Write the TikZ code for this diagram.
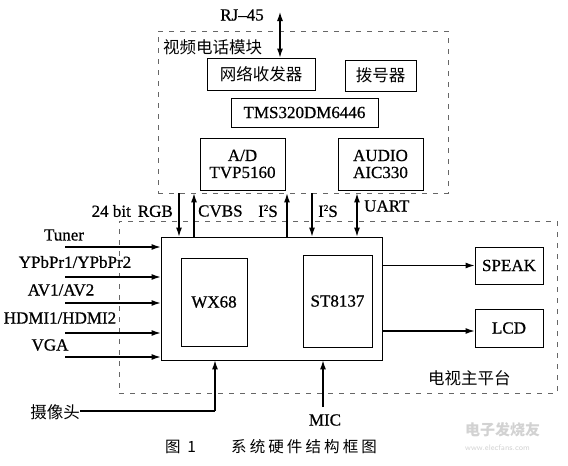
\documentclass[tikz,border=0pt]{standalone}
\usepackage{fontspec}
\setmainfont[FakeBold=0.7,AutoFakeBold=0.7]{Liberation Serif}
\newfontfamily\cjk{Noto Sans CJK SC}
\newfontfamily\cjkcap[LetterSpace=20]{Noto Sans CJK SC}
\newcommand{\sqS}{I\raisebox{6pt}{\fontsize{9}{9}\selectfont 2}S}
\usetikzlibrary{arrows.meta}
\begin{document}
\begin{tikzpicture}[x=1pt,y=-1pt,
  every node/.style={font=\bfseries\fontsize{17}{20}\selectfont},
  box/.style={draw, line width=0.9pt, inner sep=0pt, align=center},
  dbox/.style={draw, gray!80!black, line width=0.9pt, dash pattern=on 5pt off 6pt, inner sep=0pt},
  arr/.style={line width=1.1pt, -{Latex[length=9pt,width=6pt]}},
  darr/.style={line width=1.1pt, {Latex[length=9pt,width=6pt]}-{Latex[length=9pt,width=6pt]}},
  lbl/.style={inner sep=0pt},
  cn/.style={inner sep=0pt, font=\cjk\fontsize{16.5}{20}\selectfont}
]
\useasboundingbox (0,0) rectangle (568,466);
% dashed group boxes
\node[dbox, minimum width=290pt, minimum height=162pt] (topbox) at (303,112) {};
\node[dbox, minimum width=438pt, minimum height=172pt] (lowbox) at (338,307) {};
\node[cn, anchor=west] (vtitle) at (163,47) {视频电话模块};
\node[cn, anchor=west] (ttitle) at (428,378) {电视主平台};
% top module boxes
\node[box, font=\cjk\fontsize{16.5}{20}\selectfont, minimum width=108pt, minimum height=32pt] (net) at (261,74) {网络收发器};
\node[box, font=\cjk\fontsize{16.5}{20}\selectfont, minimum width=71pt, minimum height=31pt] (dial) at (380.5,75.5) {拨号器};
\node[box, minimum width=147pt, minimum height=29pt] (tms) at (304.5,112.5) {TMS320DM6446};
\node[box, minimum width=85pt, minimum height=52pt] (ad) at (242.5,164) {A/D\\[-3pt]TVP5160};
\node[box, minimum width=85pt, minimum height=52pt] (audio) at (380.5,164) {AUDIO\\[-3pt]AIC330};
% RJ-45
\node[lbl] (rj) at (242,15) {RJ–45};
\coordinate (rjtop) at (280,12);
\draw[darr] (rjtop) -- (rjtop |- net.north);
% main board
\node[box, minimum width=221pt, minimum height=123pt] (main) at (271.5,298.5) {};
\node[box, minimum width=66pt, minimum height=88pt] (wx) at (214,302) {WX68};
\node[box, minimum width=69pt, minimum height=92pt] (st) at (337.5,301) {ST8137};
\node[box, minimum width=68pt, minimum height=37pt] (speak) at (509,265.5) {SPEAK};
\node[box, minimum width=68pt, minimum height=38pt] (lcd) at (509,328) {LCD};
\draw[arr] (main.east |- speak.west) -- (speak.west);
\draw[arr] (main.east |- 0,331) coordinate (lcdS) -- (lcdS -| lcd.west);
% inputs
\foreach \n/\y in {tu/247, yp/277, av/303, hd/333, vg/357}{
  \coordinate (\n) at (65,\y);
  \draw[arr] (\n) -- (\n -| main.west);
}
\node[lbl] (ltu) at (64,235) {Tuner};
\node[lbl] (lyp) at (75,262) {YPbPr1/YPbPr2};
\node[lbl] (lav) at (61,290) {AV1/AV2};
\node[lbl] (lhd) at (60,318) {HDMI1/HDMI2};
\node[lbl] (lvg) at (50,345) {VGA};
% vertical links
\coordinate (rgb) at (179,215);
\coordinate (cvbs) at (194,215);
\coordinate (isa) at (287,215);
\coordinate (isb) at (312,215);
\coordinate (uart) at (357,215);
\draw[arr] (rgb |- topbox.south) -- (rgb |- main.north);
\draw[arr] (cvbs |- main.north) -- (cvbs |- topbox.south);
\draw[arr] (isa |- main.north) -- (isa |- topbox.south);
\draw[arr] (isb |- topbox.south) -- (isb |- main.north);
\draw[darr] (uart |- topbox.south) -- (uart |- main.north);
\node[lbl, anchor=east] (lrgb) at (173,211) {24 bit\hspace{7pt}RGB};
\node[lbl, anchor=west] (lcvbs) at (198,211) {CVBS};
\node[lbl, anchor=west] (lisa) at (258,211) {\sqS};
\node[lbl, anchor=west] (lisb) at (318,211) {\sqS};
\node[lbl, anchor=west] (luart) at (364,206) {UART};
% camera and mic
\node[cn, anchor=east] (cam) at (80,412) {摄像头};
\coordinate (camc) at (215,411);
\draw[line width=1.1pt] (cam.east |- camc) -- (camc);
\draw[arr] (camc) -- (camc |- main.south);
\node[lbl] (mic) at (325,420) {MIC};
\coordinate (micc) at (323,407);
\draw[arr] (micc) -- (micc |- main.south);
% caption
\node[cn, anchor=west, font=\cjkcap\fontsize{15.5}{18}\selectfont] (cap1) at (165,447) {图 1};
\node[cn, anchor=west, font=\cjkcap\fontsize{15.5}{18}\selectfont] (cap2) at (231,447) {系统硬件结构框图};
% watermark
\node[cn, anchor=west, gray!35, font=\cjk\bfseries\fontsize{15}{18}\selectfont] (wm1) at (465,430) {电子发烧友};
\node[lbl, anchor=west, gray!35, font=\sffamily\fontsize{8}{10}\selectfont] (wm2) at (465,448) {www.elecfans.com};
\end{tikzpicture}
\end{document}
